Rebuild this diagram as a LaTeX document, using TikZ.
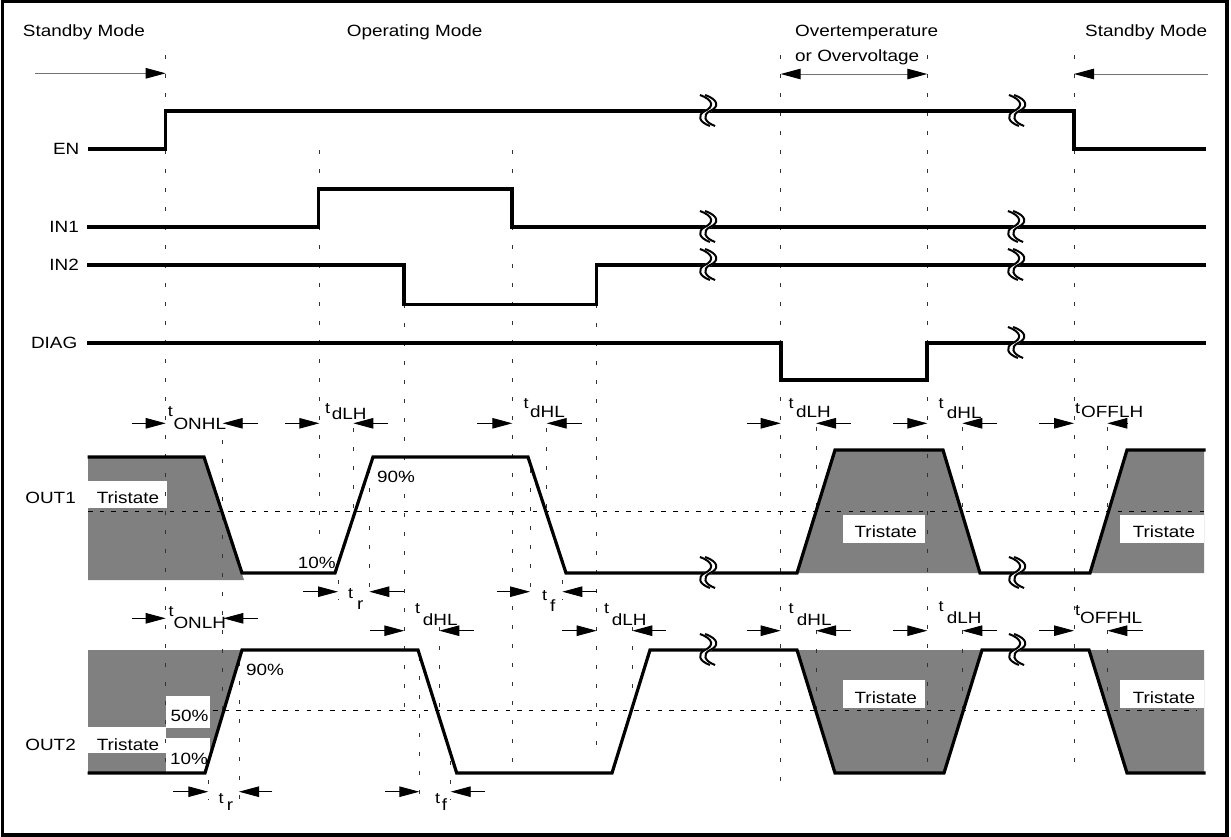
\documentclass[tikz,border=0pt]{standalone}
\usepackage{fontspec}
\setmainfont{Liberation Sans}[FakeStretch=1.16]
\usetikzlibrary{
  arrows.meta
}
\definecolor{tristate}{gray}{0.5}
\definecolor{guide}{gray}{0.2}
\tikzset{
  >={Triangle[length=20bp,width=10.5bp,color=black,fill=black]},
  signal/.style={line width=3.2bp, line join=miter},
  guide line/.style={guide, line width=1bp, dash pattern=on 3.5bp off 15.5bp},
  half level/.style={line width=0.8bp, dash pattern=on 4.5bp off 7.2bp},
  timing/.style={line width=0.9bp, ->},
  mode arrow/.style={black!55, line width=1bp},
  wave name/.style={anchor=east, inner sep=0pt},
  plain text/.style={anchor=base west, inner sep=0pt},
  small t/.style={anchor=base west, inner sep=0pt, font=\fontsize{15.5bp}{17bp}\selectfont},
  break mark/.pic={
    \draw[white, line width=4.4bp] (-5.5,-16) .. controls (8.5,-11) and (8.5,-4) .. (-0.5,0) .. controls (-8.5,4) and (-6.5,11) .. (4.5,15);
    \foreach \dx in {-2.6,2.6}
      \draw[line width=2bp, shift={(\dx,0)}] (-5.5,-16) .. controls (8.5,-11) and (8.5,-4) .. (-0.5,0) .. controls (-8.5,4) and (-6.5,11) .. (4.5,15);
  }
}

\begin{document}
\begin{tikzpicture}[x=1bp, y=-1bp, font=\fontsize{16.3bp}{19bp}\selectfont]
  \useasboundingbox (0,0) rectangle (1231,837);
  \draw[line width=3.5bp] (2.5,1.5) rectangle (1227,835);

  % tristate areas
  \fill[tristate] (88,457) -- (204,457) -- (244,580) -- (88,580) -- cycle;
  \fill[tristate] (797,573) -- (835,450) -- (943,450) -- (980,573) -- cycle;
  \fill[tristate] (1090,573) -- (1127,450) -- (1204,450) -- (1204,573) -- cycle;
  \fill[tristate] (88,650) -- (242,650) -- (205,773) -- (88,773) -- cycle;
  \fill[tristate] (797,650) -- (982,650) -- (944,773) -- (835,773) -- cycle;
  \fill[tristate] (1089,650) -- (1204,650) -- (1204,773) -- (1127,773) -- cycle;
  \foreach \xa/\ya/\xb/\yb in {88/481/166.7/507.7, 842.7/515/925/542.7, 1120/515/1204.3/542.7,
      88/727/165.7/753, 165.7/696/210/727.7, 165.7/738/210/773, 842.7/680/925/707.7, 1120/680/1204.3/707.7}
    \fill[white] (\xa,\ya) rectangle (\xb,\yb);

  % guides
  \foreach \x/\ya/\yb in {165.7/55/775, 780.7/55/787, 927.3/55/775, 1074/55/775,
      319.3/150/545, 512.3/150/765, 404.3/304/710, 596.7/304/750,
      222.7/440/711, 338/561/600, 353.3/428/515, 369.3/469/600,
      530/469/600, 546.7/428/515, 562/561/600,
      816/427/511, 962.3/427/511, 1107.3/427/511,
      816/630/711, 962.3/630/711, 1107.3/630/711,
      208.3/761/800, 239/662/800, 419.3/657/800, 439.3/627/711, 450.7/761/800, 632.3/627/711}
    \draw[guide line] (\x,\ya) -- (\x,\yb);
  \draw[half level] (88,511) -- (1205,511);
  \draw[half level] (213,710) -- (1197,710);

  % waveforms
  \draw[signal] (88,149) -- (165.7,149) -- (165.7,111) -- (1074,111) -- (1074,149) -- (1205.7,149);
  \draw[signal] (87,227) -- (318.5,227) -- (318.5,189) -- (512,189) -- (512,227) -- (1205.7,227);
  \draw[signal] (87,265) -- (404,265) -- (404,304.3) -- (596.7,304.3) -- (596.7,265) -- (1205.7,265);
  \draw[signal] (87,343) -- (781,343) -- (781,380) -- (927,380) -- (927,343) -- (1205.7,343);
  \draw[signal] (87.5,457) -- (204,457) -- (242,573) -- (335,573) -- (373,457) -- (528,457) -- (566,573)
    -- (797,573) -- (835,450) -- (943,450) -- (980,573) -- (1090,573) -- (1127,450) -- (1205.7,450);
  \draw[signal] (87.5,773) -- (205,773) -- (242,650) -- (418,650) -- (456.7,773) -- (612,773) -- (650,650)
    -- (797,650) -- (835,773) -- (944,773) -- (982,650) -- (1089,650) -- (1127,773) -- (1205.7,773);
  \foreach \x/\y in {708/111, 1017/111, 708/227, 1016/227, 708/265, 1016/265, 1016/343,
      708/573, 1017/573, 708/650, 1017/650}
    \pic at (\x,\y) {break mark};

  % modes
  \node[plain text] (sb1) at (22.7,36.7) {Standby Mode};
  \node[plain text] (op) at (346.7,36.7) {Operating Mode};
  \node[plain text] (ot) at (795,36.7) {Overtemperature};
  \node[plain text] (ov) at (795,61.7) {or Overvoltage};
  \node[plain text] (sb2) at (1085,36.7) {Standby Mode};
  \draw[mode arrow, ->] (35,73.3) -- (165.7,73.3);
  \draw[mode arrow, <->] (780.7,74) -- (927.3,74);
  \draw[mode arrow, ->] (1208,74) -- (1074,74);

  \node[wave name] (en) at (79.5,149) {EN};
  \node[wave name] (in1) at (79,227) {IN1};
  \node[wave name] (in2) at (79,265) {IN2};
  \node[wave name] (diag) at (77.5,343) {DIAG};
  \node[wave name] (out1) at (76,498) {OUT1};
  \node[wave name] (out2) at (76,744.5) {OUT2};

  \foreach \x/\y/\s [count=\i] in {128/497.8/Tristate, 885.8/532/Tristate, 1164/532/Tristate,
      128/744.2/Tristate, 885.8/698/Tristate, 1164/698/Tristate,
      396/476.7/90\%, 316.7/562.5/10\%, 265/670/90\%, 189.5/716/50\%, 189/759/10\%}
    \node[inner sep=0pt] (lv\i) at (\x,\y) {\s};

  % timing marks
  \foreach \y/\a/\b/\c/\d in {423.3/131.7/165.7/222.7/258, 423.3/285/319.3/353.3/388,
      423.3/477/512.3/546.7/581.7, 423.3/746.7/780.7/816/850.7, 423.3/893.3/927.3/962.3/997.3,
      423.3/1039.3/1074/1107.3/1128, 591.7/303.3/338/369.3/404.3, 591.7/496.7/530/562.3/596.7,
      618.3/131.7/165.7/223.3/258, 630.7/370/404.3/439.3/474, 630.7/562.3/596.7/632.3/665.7,
      630.7/746.7/780.7/816/850.7, 630.7/893.3/927.3/962.3/997.3, 630.7/1039.3/1074/1107.3/1143,
      791.7/173.3/208.3/239/272.3, 791.7/385/419.3/450.7/485} {
    \draw[timing] (\a,\y) -- (\b,\y);
    \draw[timing] (\d,\y) -- (\c,\y);
  }
  \foreach \tx/\ty/\sx/\sy/\s [count=\i] in {167.7/416.7/173.3/429/ONHL, 325/413/331.7/419.3/dLH,
      523.3/408.3/530/417.7/dHL, 788.3/408.3/796/417.7/dLH, 938.3/408/946.7/418/dHL,
      1075/413.3/1081/417.7/OFFLH, 348/598/357/609/r, 542/600/550/611.7/f,
      168.3/616.7/173.3/628.3/ONLH, 415/613/422.7/625/dHL, 604/613/611.7/625/dLH,
      788.3/613/796.7/625/dHL, 938.3/611/946.7/623.3/dLH, 1075/615/1080/623.3/OFFHL,
      218.3/803.3/226.7/810/r, 435/803/441.7/810/f} {
    \node[small t] (t\i) at (\tx,\ty) {t};
    \node[plain text] (s\i) at (\sx,\sy) {\s};
  }
\end{tikzpicture}
\end{document}
